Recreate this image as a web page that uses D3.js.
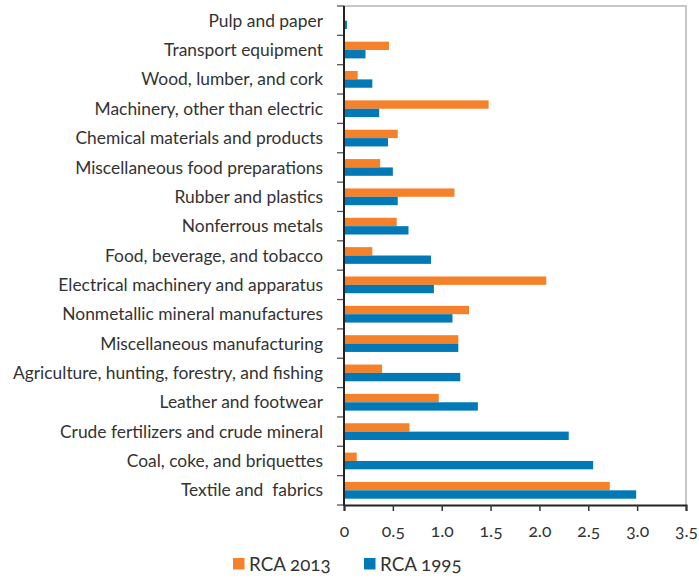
<!DOCTYPE html>
<html>
<head>
<meta charset="utf-8">
<script src="https://cdn.jsdelivr.net/npm/d3@7"></script>
<style>
  html, body { margin: 0; padding: 0; background: #fff; }
  svg { display: block; font-family: Lato, "Open Sans", sans-serif; font-variant-numeric: oldstyle-nums; }
  text.cat { white-space: pre; }
</style>
</head>
<body>
<svg id="chart" width="699" height="579"></svg>
<script>
const categories = [
  "Pulp and paper",
  "Transport equipment",
  "Wood, lumber, and cork",
  "Machinery, other than electric",
  "Chemical materials and products",
  "Miscellaneous food preparations",
  "Rubber and plastics",
  "Nonferrous metals",
  "Food, beverage, and tobacco",
  "Electrical machinery and apparatus",
  "Nonmetallic mineral manufactures",
  "Miscellaneous manufacturing",
  "Agriculture, hunting, forestry, and fishing",
  "Leather and footwear",
  "Crude fertilizers and crude mineral",
  "Coal, coke, and briquettes",
  "Textile and  fabrics"
];
const rca2013 = [0.01, 0.46, 0.14, 1.48, 0.55, 0.37, 1.13, 0.54, 0.29, 2.07, 1.28, 1.17, 0.39, 0.97, 0.67, 0.13, 2.72];
const rca1995 = [0.03, 0.22, 0.29, 0.36, 0.45, 0.50, 0.55, 0.66, 0.89, 0.92, 1.11, 1.17, 1.19, 1.37, 2.30, 2.55, 2.99];
const xTicks = [0, 0.5, 1.0, 1.5, 2.0, 2.5, 3.0, 3.5];
const seriesNames = ["RCA 2013", "RCA 1995"];
const seriesColors = ["#f5822a", "#0079b6"];

const svg = d3.select("#chart");
const mLeft = 344, mRight = 686, mTop = 6, mBottom = 505;

const x = d3.scaleLinear().domain([0, 3.5]).range([mLeft, mRight]);
const y = d3.scaleBand().domain(categories).range([mTop, mBottom]).paddingInner(0.43).paddingOuter(0.215);
const sub = d3.scaleBand().domain(seriesNames).range([0, y.bandwidth()]);

// frame (top & right)
svg.append("path")
  .attr("d", `M${mLeft},${mTop}H${mRight}V${mBottom}`)
  .attr("fill", "none").attr("stroke", "#b5b5b5").attr("stroke-width", 1.5);

const rows = categories.map((c, i) => ({c, v: [rca2013[i], rca1995[i]]}));
const g = svg.append("g");
rows.forEach(r => {
  r.v.forEach((v, k) => {
    g.append("rect")
      .attr("x", x(0))
      .attr("y", y(r.c) + sub(seriesNames[k]))
      .attr("width", x(v) - x(0))
      .attr("height", sub.bandwidth())
      .attr("fill", seriesColors[k]);
  });
});

// y axis ticks at band boundaries
const yb = d3.scaleLinear().domain([0, categories.length]).range([mTop, mBottom]);
const yAxisG = svg.append("g");
d3.range(categories.length + 1).forEach(i => {
  yAxisG.append("line")
    .attr("x1", mLeft - 7).attr("x2", mLeft)
    .attr("y1", yb(i)).attr("y2", yb(i))
    .attr("stroke", "#555").attr("stroke-width", 1.3);
});
yAxisG.append("line")
  .attr("x1", mLeft).attr("x2", mLeft).attr("y1", mTop).attr("y2", mBottom + 0.8)
  .attr("stroke", "#222").attr("stroke-width", 2);

yAxisG.selectAll("text.cat").data(categories).enter().append("text")
  .attr("class", "cat")
  .attr("x", 323)
  .attr("y", d => y(d) + y.bandwidth() / 2)
  .attr("dy", "0.35em")
  .attr("text-anchor", "end")
  .attr("font-size", 17.4)
  .attr("fill", "#333")
  .text(d => d);

// x axis
const xAxis = d3.axisBottom(x).tickValues(xTicks).tickSize(6).tickPadding(14)
  .tickFormat(d => d === 0 ? "0" : d3.format(".1f")(d));
const xg = svg.append("g").attr("transform", `translate(0,${mBottom})`).call(xAxis);
xg.select(".domain").attr("stroke", "#222").attr("stroke-width", 2);
xg.selectAll(".tick line").attr("stroke", "#333").attr("stroke-width", 1.5);
xg.selectAll(".tick text").attr("font-size", 17.5).attr("fill", "#333")
  .attr("font-family", "Lato, 'Open Sans', sans-serif");

// legend
const legend = [
  {name: seriesNames[0], color: seriesColors[0], x: 233},
  {name: seriesNames[1], color: seriesColors[1], x: 364}
];
legend.forEach(l => {
  svg.append("rect").attr("x", l.x).attr("y", 558).attr("width", 11.5).attr("height", 11.5).attr("fill", l.color);
  svg.append("text").attr("x", l.x + 16).attr("y", 570.5).attr("font-size", 18.8).attr("fill", "#333").text(l.name);
});
</script>
</body>
</html>
